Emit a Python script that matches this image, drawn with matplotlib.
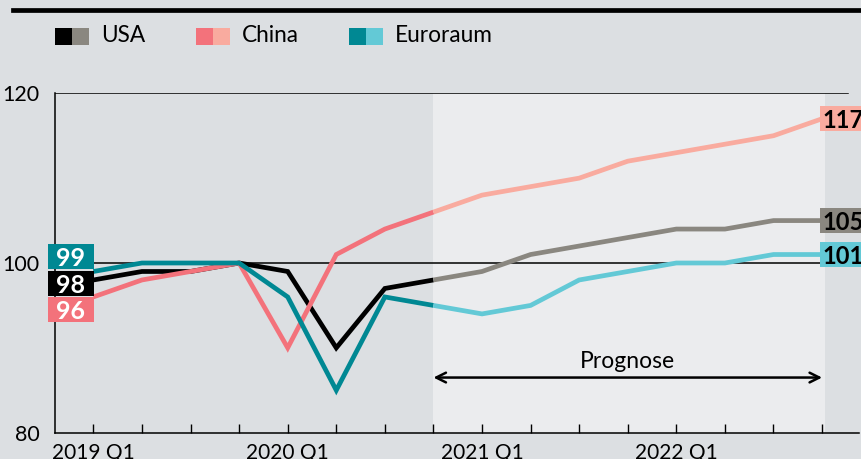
import matplotlib
matplotlib.use("Agg")
import matplotlib.pyplot as plt
from matplotlib.patches import Rectangle
from matplotlib.lines import Line2D

plt.rcParams['font.family'] = ['Lato', 'DejaVu Sans']

quarters = ["2019 Q1", "2019 Q2", "2019 Q3", "2019 Q4",
            "2020 Q1", "2020 Q2", "2020 Q3", "2020 Q4",
            "2021 Q1", "2021 Q2", "2021 Q3", "2021 Q4",
            "2022 Q1", "2022 Q2", "2022 Q3", "2022 Q4"]
tick_labels = ["2019 Q1", "", "", "", "2020 Q1", "", "", "",
               "2021 Q1", "", "", "", "2022 Q1", "", "", ""]
usa = [98, 99, 99, 100, 99, 90, 97, 98, 99, 101, 102, 103, 104, 104, 105, 105]
china = [96, 98, 99, 100, 90, 101, 104, 106, 108, 109, 110, 112, 113, 114, 115, 117]
euro = [99, 100, 100, 100, 96, 85, 96, 95, 94, 95, 98, 99, 100, 100, 101, 101]
series_names = ["USA", "China", "Euroraum"]
forecast_start = 7  # index of 2020 Q4

BG = "#dcdfe2"
FC_BG = "#ebecee"
colors = {
    "USA": ("#000000", "#8a8780"),
    "China": ("#f3727b", "#f9ab9f"),
    "Euroraum": ("#008893", "#63c9d6"),
}
data = {"USA": usa, "China": china, "Euroraum": euro}

W, H = 862, 459
fig = plt.figure(figsize=(W / 100, H / 100), dpi=100, facecolor=BG)
ax = fig.add_axes([55 / W, (H - 432.7) / H, (859 - 55) / W, (432.7 - 93.3) / H])
ax.set_facecolor(BG)

x = list(range(len(quarters)))
ax.set_xlim(-0.79, 15.76)
ax.set_ylim(80, 120)

# forecast shading
ax.axvspan(forecast_start, 15.05, color=FC_BG, zorder=0, lw=0)

# gridlines
for yv in (100, 120):
    ax.axhline(yv, xmin=0, xmax=(848 - 55) / (859 - 55), color="black", lw=1.1, zorder=1)

lw = 3.4
for name in series_names:
    vals = data[name]
    dark, light = colors[name]
    ax.plot(x[:forecast_start + 1], vals[:forecast_start + 1], color=dark, lw=lw,
            solid_joinstyle="miter", solid_capstyle="butt", zorder=3)
    ax.plot(x[forecast_start:], vals[forecast_start:], color=light, lw=lw,
            solid_joinstyle="miter", solid_capstyle="butt", zorder=3)

# spines / ticks
for s in ("top", "right"):
    ax.spines[s].set_visible(False)
ax.spines["left"].set_linewidth(1.1)
ax.spines["bottom"].set_linewidth(1.1)
ax.set_xticks(x)
ax.set_xticklabels(tick_labels, fontsize=15)
ax.tick_params(axis="x", direction="in", length=6.8, width=1.0, pad=7.5)
ax.set_yticks([80, 100, 120])
ax.set_yticklabels(["80", "100", "120"], fontsize=15.5)
ax.tick_params(axis="y", length=0, pad=11)

# pixel -> data helpers
px_per_q = (859 - 55) / (15.76 + 0.79)
px_per_v = (432.7 - 93.3) / 40.0
box_h = 25 / px_per_v

# left labels (start values), offset to avoid overlap
left_pos = {"Euroraum": 100.8, "USA": 97.6, "China": 94.5}
bx0 = -45.5 / px_per_q
for name in series_names:
    dark, light = colors[name]
    yc = left_pos[name]
    ax.add_patch(Rectangle((bx0, yc - box_h / 2), -bx0 + 0.015, box_h, fc=dark, ec="none",
                           zorder=6, clip_on=False))
    ax.text(bx0 / 2 + 0.007, yc, str(data[name][0]), ha="center", va="center_baseline",
            fontsize=18, fontweight="bold", color="white", zorder=7, clip_on=False)

# right labels (end values)
rx0 = 15 - 2 / px_per_q
for name in series_names:
    dark, light = colors[name]
    yc = data[name][-1]
    ax.add_patch(Rectangle((rx0, yc - box_h / 2), 1.2, box_h, fc=light, ec="none",
                           zorder=6, clip_on=False))
    ax.text(15.0, yc, str(yc), ha="left", va="center_baseline",
            fontsize=17, fontweight="bold", color="black", zorder=7, clip_on=False)

# Prognose arrow
ax.annotate("", xy=(15.0, 86.5), xytext=(forecast_start, 86.5),
            arrowprops=dict(arrowstyle="<->,head_length=0.7,head_width=0.35",
                            color="black", lw=1.8, shrinkA=0, shrinkB=0), zorder=5)
ax.text(11.0, 87.2, "Prognose", ha="center", va="bottom", fontsize=16.5, zorder=5)

# top rule
fig.add_artist(Line2D([13 / W, 1.0], [(H - 10) / H, (H - 10) / H], color="black", lw=3.4))

# legend
leg_x = {"USA": 55, "China": 196, "Euroraum": 349}
for name in series_names:
    dark, light = colors[name]
    x0 = leg_x[name]
    fig.add_artist(Rectangle((x0 / W, (H - 44.5) / H), 17 / W, 17 / H,
                             transform=fig.transFigure, fc=dark, ec="none"))
    fig.add_artist(Rectangle(((x0 + 17) / W, (H - 44.5) / H), 17 / W, 17 / H,
                             transform=fig.transFigure, fc=light, ec="none"))
    fig.text((x0 + 46) / W, (H - 36) / H, name, ha="left", va="center", fontsize=16.3)

fig.savefig("out.png", dpi=100, facecolor=BG)
